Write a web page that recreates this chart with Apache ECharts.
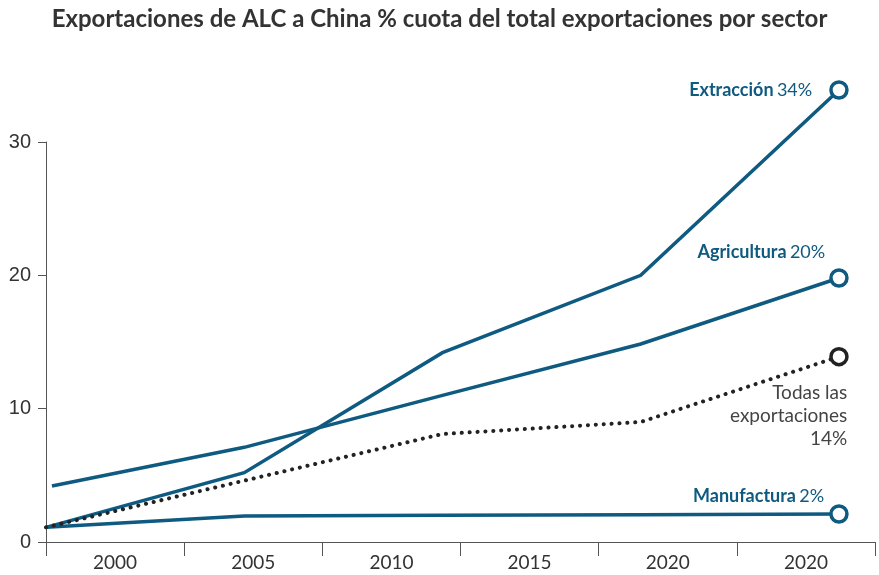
<!DOCTYPE html>
<html><head><meta charset="utf-8">
<script src="https://cdn.jsdelivr.net/npm/echarts@6/dist/echarts.min.js"></script>
<style>html,body{margin:0;padding:0;background:#fff}#c{width:879px;height:575px}</style>
</head><body><div id="c"></div>
<script>
const categories = ['2000', '2005', '2010', '2015', '2020', '2020'];
const yTicks = [0, 10, 20, 30];
const periods = [0, 1, 2, 3, 4];
const agriStart = 0.03;
const extraccion = [1.1, 5.2, 14.2, 20.0, 33.9];
const agricultura = [4.2, 7.1, 11.0, 14.85, 19.8];
const todas = [1.1, 4.6, 8.1, 9.0, 13.9];
const manufactura = [1.1, 1.95, 2.0, 2.05, 2.1];

const BLUE = '#0f5a80';
const DARK = '#222222';

function pts(vals, firstX) {
  return vals.map((v, i) => [i === 0 && firstX !== undefined ? firstX : periods[i], v]);
}

const chart = echarts.init(document.getElementById('c'));

function lineSeries(name, vals, color, dotted, firstX) {
  return {
    name, type: 'line', xAxisIndex: 1, yAxisIndex: 0,
    data: pts(vals, firstX), symbol: 'none', clip: false,
    lineStyle: dotted
      ? { color, width: 4, type: [0.1, 7.8], cap: 'round', opacity: 1 }
      : { color, width: 3.5, cap: 'butt', join: 'miter', opacity: 1 },
    z: dotted ? 3 : 2, silent: true, animation: false
  };
}

function endSeries(name, vals, color, label) {
  const last = vals.length - 1;
  return {
    name: name + '_end', type: 'scatter', xAxisIndex: 1, yAxisIndex: 0,
    data: [[periods[last], vals[last]]], clip: false,
    symbol: 'circle', symbolSize: 16,
    itemStyle: { color: '#fff', borderColor: color, borderWidth: 3.5, opacity: 1 },
    label: Object.assign({ show: true }, label),
    z: 5, silent: true, animation: false
  };
}

function richLabel(bold, val, color, dist, offset) {
  return {
    position: 'left', distance: dist, offset,
    formatter: '{b|' + bold + '} {v|' + val + '}',
    rich: {
      b: { fontFamily: 'Lato', fontWeight: 'bold', fontSize: 18, color },
      v: { fontFamily: 'Lato', fontSize: 18, color }
    }
  };
}

chart.setOption({
  animation: false,
  title: {
    text: 'Exportaciones de ALC a China % cuota del total exportaciones por sector',
    left: 'center', top: 2,
    textStyle: { fontFamily: 'Lato', fontWeight: 'bold', fontSize: 24, color: '#333' }
  },
  grid: { left: 46, right: 4, top: 142, bottom: 33, containLabel: false },
  xAxis: [
    {
      type: 'category', data: categories, boundaryGap: true,
      axisLine: { show: true, lineStyle: { color: '#555', width: 1 } },
      axisTick: { show: true, interval: 0, length: 14, lineStyle: { color: '#555' } },
      axisLabel: { interval: 0, margin: 11, fontFamily: 'Lato', fontSize: 19, color: '#333' },
      splitLine: { show: false }
    },
    { type: 'value', min: 0, max: 828 / 198, show: false }
  ],
  yAxis: {
    type: 'value', min: yTicks[0], max: yTicks[yTicks.length - 1], interval: 10,
    axisLine: { show: true, lineStyle: { color: '#555', width: 1 } },
    axisTick: { show: true, length: 8, lineStyle: { color: '#555' } },
    axisLabel: { margin: 15, fontFamily: 'Liberation Sans', fontSize: 20, color: '#333' },
    splitLine: { show: false }
  },
  series: [
    lineSeries('Manufactura', manufactura, BLUE, false),
    lineSeries('Agricultura', agricultura, BLUE, false, agriStart),
    lineSeries('Extracción', extraccion, BLUE, false),
    lineSeries('Todas', todas, DARK, true),
    endSeries('Extracción', extraccion, BLUE, richLabel('Extracción', '34%', BLUE, 17, [0, 0])),
    endSeries('Agricultura', agricultura, BLUE, richLabel('Agricultura', '20%', BLUE, 4, [0, -26])),
    endSeries('Manufactura', manufactura, BLUE, richLabel('Manufactura', '2%', BLUE, 5, [0, -18])),
    endSeries('Todas', todas, DARK, {
      position: 'left', distance: 0, offset: [18, 59], align: 'right',
      formatter: 'Todas las\nexportaciones\n14%',
      fontFamily: 'Lato', fontSize: 19, lineHeight: 23, color: '#444'
    })
  ]
});
</script></body></html>
